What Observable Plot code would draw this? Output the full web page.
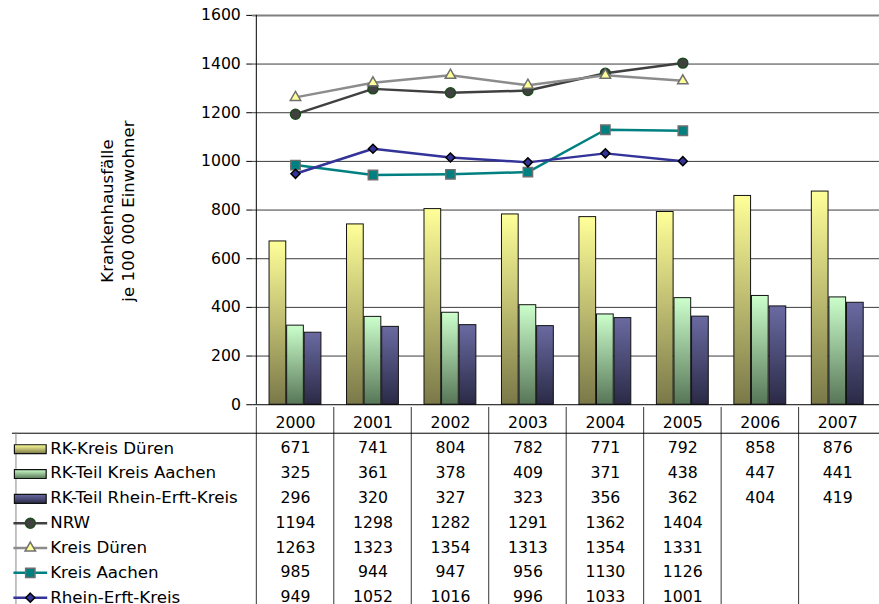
<!DOCTYPE html>
<html>
<head>
<meta charset="utf-8">
<script src="https://cdn.jsdelivr.net/npm/d3@7"></script>
<script src="https://cdn.jsdelivr.net/npm/@observablehq/plot@0.6"></script>
<style>
  html, body { margin: 0; padding: 0; background: #fff; overflow: hidden; }
  #wrap { position: relative; width: 879px; height: 604px; overflow: hidden; }
  #wrap svg { position: absolute; left: 0; }
</style>
</head>
<body>
<div id="wrap"></div>
<script>
// Years shown on the category axis and as table columns
const years = ["2000", "2001", "2002", "2003", "2004", "2005", "2006", "2007"];

// Bar series (hospital cases of the cancer registry per 100 000 inhabitants)
const rkKreisDueren = [671, 741, 804, 782, 771, 792, 858, 876];
const rkTeilKreisAachen = [325, 361, 378, 409, 371, 438, 447, 441];
const rkTeilRheinErft = [296, 320, 327, 323, 356, 362, 404, 419];

// Line series (2000-2005)
const nrw = [1194, 1298, 1282, 1291, 1362, 1404];
const kreisDueren = [1263, 1323, 1354, 1313, 1354, 1331];
const kreisAachen = [985, 944, 947, 956, 1130, 1126];
const rheinErftKreis = [949, 1052, 1016, 996, 1033, 1001];

// Value axis ticks
const yTicks = [0, 200, 400, 600, 800, 1000, 1200, 1400, 1600];

const barSeries = [
  {name: "RK-Kreis Düren", values: rkKreisDueren, grad: "gYellow", top: "#ffff99", bottom: "#7a7848"},
  {name: "RK-Teil Kreis Aachen", values: rkTeilKreisAachen, grad: "gGreen", top: "#ccffcc", bottom: "#577657"},
  {name: "RK-Teil Rhein-Erft-Kreis", values: rkTeilRheinErft, grad: "gBlue", top: "#6a6aa2", bottom: "#2a2a46"}
];

const lineSeries = [
  {name: "NRW", values: nrw, color: "#404040", width: 2.5, symbol: "circle", r: 5, fill: "#404040", stroke: "#1e4a1e"},
  {name: "Kreis Düren", values: kreisDueren, color: "#8c8c8c", width: 2.5, symbol: "triangle", r: 3.9, fill: "#ffff99", stroke: "#707070"},
  {name: "Kreis Aachen", values: kreisAachen, color: "#008080", width: 2.5, symbol: "square", r: 5.3, fill: "#008080", stroke: "#6e6e6e"},
  {name: "Rhein-Erft-Kreis", values: rheinErftKreis, color: "#333399", width: 2.5, symbol: "diamond2", r: 4.1, fill: "#333399", stroke: "#000000"}
];

const W = 885;            // svg width (last column runs past the window edge)
const LEFT = 254;         // left edge of plot area / first table column
const BW = (W - LEFT) / years.length;   // band width
const BAR_W = 17.7;
const OUTER = (BW - 3 * BAR_W) / 2;
const FONT = "DejaVu Sans, Verdana, sans-serif";
const NUM_SIZE = 15.8;
const LABEL_SIZE = 16.8;

const rows = (values) => values.map((value, i) => ({year: years[i], value}));

// Gradient fills for the bars and their legend keys
const defs = () => {
  const d = d3.create("svg:defs");
  for (const s of barSeries) {
    const g = d.append("linearGradient").attr("id", s.grad)
      .attr("x1", 0).attr("y1", 0).attr("x2", 0).attr("y2", 1);
    g.append("stop").attr("offset", "0%").attr("stop-color", s.top);
    g.append("stop").attr("offset", "100%").attr("stop-color", s.bottom);
  }
  return d.node();
};

const chartMarks = [
  defs,
  Plot.ruleY(yTicks.filter(d => d > 0 && d < 1600), {stroke: "#3a3a3a", strokeWidth: 1}),
  Plot.ruleY([1600], {stroke: "#808080", strokeWidth: 2}),
  ...barSeries.map((s, j) => Plot.barY(rows(s.values), {
    x: "year", y: "value",
    fill: `url(#${s.grad})`, stroke: "#111", strokeWidth: 1,
    insetLeft: OUTER + j * BAR_W,
    insetRight: BW - OUTER - (j + 1) * BAR_W
  })),
  ...lineSeries.flatMap(s => [
    Plot.line(rows(s.values), {x: "year", y: "value", stroke: s.color, strokeWidth: s.width}),
    Plot.dot(rows(s.values), {x: "year", y: "value", symbol: s.symbol, r: s.r, fill: s.fill, stroke: s.stroke, strokeWidth: 1.5})
  ]),
  Plot.ruleY([0], {stroke: "#000", strokeWidth: 1}),
  Plot.ruleX(["2000"], {x: d => d, dx: -BW / 2, stroke: "#000", strokeWidth: 1}),
  Plot.axisY({ticks: yTicks, tickSize: 6, tickPadding: 6, tickFormat: d => String(d), label: null,
    fontSize: NUM_SIZE, fill: "#000", stroke: "#000"}),
  Plot.text(["Krankenhausfälle\nje 100 000 Einwohner"], {
    frameAnchor: "left", textAnchor: "middle", dx: 117 - LEFT, dy: 1, rotate: -90,
    fontSize: 16.7, lineHeight: 1.26, fill: "#000"
  })
];

const chart = Plot.plot({
  width: W, height: 408,
  marginLeft: LEFT, marginRight: 0, marginTop: 15, marginBottom: 1,
  x: {type: "band", domain: years, padding: 0, axis: null},
  y: {domain: [0, 1600], axis: null},
  style: {fontFamily: FONT, fontSize: "15px", color: "#000", background: "transparent", overflow: "visible"},
  marks: chartMarks
});
chart.style.top = "0px";

// Data table below the chart: header row with years, one row per series
const ROW_H = 25.2;
const rowKeys = ["header", ...barSeries.map(s => s.name), ...lineSeries.map(s => s.name)];
const cells = [
  ...barSeries.flatMap(s => s.values.map((v, i) => ({row: s.name, year: years[i], value: v}))),
  ...lineSeries.flatMap(s => s.values.map((v, i) => ({row: s.name, year: years[i], value: v})))
];

const barKey = {draw(ctx) { ctx.rect(-16, -4.5, 32, 9); }};
const lineKey = {draw(ctx) { ctx.moveTo(-17, 0); ctx.lineTo(17, 0); }};
const KEY_DX = 30 - LEFT;

const table = Plot.plot({
  width: W, height: Math.ceil(ROW_H * rowKeys.length),
  marginLeft: LEFT, marginRight: 0, marginTop: 0, marginBottom: 0,
  x: {type: "band", domain: years, padding: 0, axis: null},
  y: {type: "band", domain: rowKeys, padding: 0, axis: null},
  style: {fontFamily: FONT, fontSize: "15px", color: "#000", background: "transparent", overflow: "visible"},
  marks: [
    // column separators
    Plot.ruleX(years, {x: d => d, dx: -BW / 2, stroke: "#333", strokeWidth: 1}),
    // line under the header row, running across the legend column
    Plot.ruleY([barSeries[0].name], {y: d => d, dy: -ROW_H / 2, stroke: "#000", strokeWidth: 1, insetLeft: 12 - LEFT}),
    // left border of the legend column
    Plot.ruleX(["2000"], {x: d => d, dx: -BW / 2 + 12 - LEFT, insetTop: ROW_H, stroke: "#888", strokeWidth: 1}),
    // header years
    Plot.text(years, {x: d => d, y: () => "header", dy: 2, fontSize: NUM_SIZE, fill: "#000"}),
    // values
    Plot.text(cells, {x: "year", y: "row", text: d => String(d.value), dy: 2.5, fontSize: NUM_SIZE, fill: "#000"}),
    // legend keys
    Plot.dot(barSeries, {y: "name", frameAnchor: "left", dx: KEY_DX, dy: 3.5, symbol: barKey, r: 1,
      fill: s => `url(#${s.grad})`, stroke: "#111", strokeWidth: 1.2}),
    ...lineSeries.flatMap(s => [
      Plot.dot([s], {y: "name", frameAnchor: "left", dx: KEY_DX, dy: 3, symbol: lineKey, r: 1,
        fill: "none", stroke: s.color, strokeWidth: 2.5}),
      Plot.dot([s], {y: "name", frameAnchor: "left", dx: KEY_DX, dy: 3, symbol: s.symbol, r: s.r,
        fill: s.fill, stroke: s.stroke, strokeWidth: 1.5})
    ]),
    // legend labels
    Plot.text([...barSeries, ...lineSeries], {y: "name", text: "name", frameAnchor: "left", dx: 50 - LEFT, dy: 2.5,
      textAnchor: "start", fontSize: LABEL_SIZE, fill: "#000"})
  ]
});
table.style.top = "407px";

const wrap = document.getElementById("wrap");
wrap.appendChild(table);
wrap.appendChild(chart);
</script>
</body>
</html>
